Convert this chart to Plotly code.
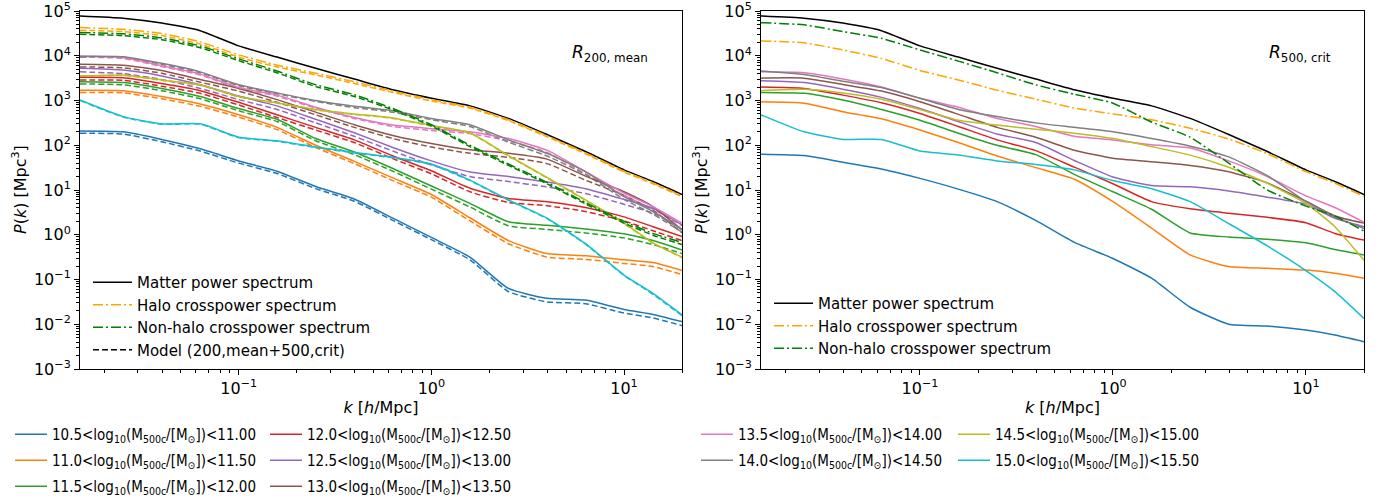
import numpy as np
import plotly.graph_objects as go

# ---------------- data (log10 of P(k) in Mpc^3) ----------------
k = [0.0150, 0.0251, 0.0398, 0.0631, 0.100, 0.158, 0.251, 0.398, 0.631,
     1.00, 1.585, 2.512, 3.981, 6.310, 10.00, 14.13, 20.00]

bin_labels = ["10.5", "11.0", "11.5", "12.0", "12.5", "13.0", "13.5", "14.0", "14.5", "15.0"]
bin_upper = ["11.00", "11.50", "12.00", "12.50", "13.00", "13.50", "14.00", "14.50", "15.00", "15.50"]
colors = ["#1f77b4", "#ff7f0e", "#2ca02c", "#d62728", "#9467bd",
          "#8c564b", "#e377c2", "#7f7f7f", "#bcbd22", "#17becf"]

matter = [4.89, 4.84, 4.73, 4.56, 4.22, 3.97, 3.72, 3.48, 3.24, 3.05, 2.88, 2.60, 2.24, 1.86, 1.45, 1.19, 0.90]

# left panel (R200,mean)
L_halo = [4.63, 4.59, 4.50, 4.31, 4.02, 3.79, 3.61, 3.42, 3.21, 3.02, 2.85, 2.57, 2.21, 1.83, 1.42, 1.16, 0.87]
L_halo_mod = [4.57, 4.54, 4.45, 4.26, 3.97, 3.75, 3.57, 3.38, 3.18, 2.99, 2.83, 2.55, 2.19, 1.81, 1.40, 1.14, 0.85]
L_nonhalo = [4.52, 4.49, 4.40, 4.22, 3.93, 3.66, 3.35, 3.13, 2.82, 2.46, 2.00, 1.58, 1.17, 0.72, 0.30, 0.03, -0.17]
L_nonhalo_mod = [4.48, 4.45, 4.36, 4.18, 3.89, 3.62, 3.31, 3.09, 2.79, 2.43, 1.97, 1.55, 1.14, 0.69, 0.26, -0.01, -0.22]

L_105 = [2.32, 2.30, 2.13, 1.92, 1.65, 1.42, 1.08, 0.80, 0.37, -0.06, -0.50, -1.20, -1.42, -1.46, -1.67, -1.78, -1.94]
L_110 = [3.23, 3.22, 3.09, 2.92, 2.68, 2.40, 2.00, 1.64, 1.27, 0.90, 0.38, -0.13, -0.42, -0.47, -0.56, -0.62, -0.80]
L_115 = [3.42, 3.40, 3.27, 3.09, 2.82, 2.58, 2.15, 1.85, 1.48, 1.09, 0.70, 0.29, 0.21, 0.13, 0.02, -0.13, -0.34]
L_120 = [3.52, 3.51, 3.38, 3.22, 2.96, 2.68, 2.40, 2.12, 1.76, 1.43, 1.04, 0.81, 0.74, 0.61, 0.40, 0.18, -0.04]
L_125 = [3.72, 3.68, 3.55, 3.35, 3.10, 2.88, 2.58, 2.28, 1.95, 1.65, 1.40, 1.30, 1.18, 1.03, 0.79, 0.59, 0.22]
L_130 = [3.81, 3.79, 3.67, 3.47, 3.27, 3.02, 2.74, 2.46, 2.22, 2.04, 1.90, 1.82, 1.69, 1.31, 0.96, 0.63, 0.11]
L_135 = [3.99, 3.96, 3.78, 3.59, 3.29, 3.12, 2.85, 2.62, 2.45, 2.37, 2.30, 2.15, 1.89, 1.41, 0.93, 0.63, 0.26]
L_140 = [3.99, 3.98, 3.83, 3.64, 3.35, 3.17, 3.00, 2.87, 2.77, 2.60, 2.46, 2.12, 1.82, 1.41, 0.85, 0.52, 0.12]
L_145 = [3.55, 3.57, 3.46, 3.35, 3.09, 2.95, 2.80, 2.70, 2.61, 2.44, 2.28, 1.77, 1.28, 0.78, 0.26, -0.18, -0.50]
L_150 = [3.01, 2.64, 2.48, 2.48, 2.18, 2.10, 1.96, 1.84, 1.73, 1.58, 1.22, 0.78, 0.37, -0.20, -0.90, -1.31, -1.79]

M_105 = [2.27, 2.25, 2.08, 1.87, 1.60, 1.37, 1.03, 0.75, 0.32, -0.11, -0.56, -1.27, -1.50, -1.54, -1.75, -1.86, -2.03]
M_110 = [3.18, 3.17, 3.04, 2.87, 2.63, 2.35, 1.95, 1.59, 1.21, 0.84, 0.31, -0.20, -0.50, -0.55, -0.64, -0.71, -0.89]
M_115 = [3.37, 3.35, 3.22, 3.04, 2.77, 2.53, 2.10, 1.79, 1.42, 1.02, 0.62, 0.20, 0.12, 0.04, -0.07, -0.22, -0.42]
M_120 = [3.46, 3.45, 3.32, 3.16, 2.90, 2.62, 2.34, 2.06, 1.70, 1.36, 0.96, 0.72, 0.65, 0.52, 0.31, 0.09, -0.13]
M_125 = [3.64, 3.60, 3.47, 3.27, 3.02, 2.80, 2.50, 2.20, 1.87, 1.56, 1.30, 1.19, 1.07, 0.92, 0.68, 0.48, 0.12]
M_130 = [3.75, 3.73, 3.61, 3.41, 3.21, 2.96, 2.68, 2.40, 2.15, 1.96, 1.82, 1.73, 1.59, 1.22, 0.88, 0.55, 0.04]
M_135 = [3.97, 3.94, 3.76, 3.57, 3.27, 3.10, 2.83, 2.60, 2.42, 2.33, 2.26, 2.10, 1.84, 1.36, 0.88, 0.57, 0.20]
M_140 = [3.97, 3.96, 3.81, 3.62, 3.33, 3.15, 2.98, 2.84, 2.74, 2.57, 2.42, 2.07, 1.76, 1.35, 0.79, 0.46, 0.06]
M_145 = [3.54, 3.56, 3.45, 3.34, 3.08, 2.94, 2.79, 2.69, 2.60, 2.43, 2.27, 1.76, 1.27, 0.77, 0.25, -0.19, -0.51]
M_150 = [3.00, 2.63, 2.47, 2.47, 2.17, 2.09, 1.95, 1.83, 1.72, 1.57, 1.21, 0.77, 0.36, -0.21, -0.91, -1.33, -1.81]

# right panel (R500,crit)
R_halo = [4.33, 4.29, 4.13, 3.94, 3.67, 3.46, 3.23, 3.03, 2.83, 2.70, 2.57, 2.38, 2.14, 1.81, 1.41, 1.15, 0.86]
R_nonhalo = [4.74, 4.69, 4.54, 4.39, 4.13, 3.88, 3.62, 3.35, 3.14, 2.94, 2.52, 2.18, 1.60, 1.00, 0.64, 0.42, 0.08]

R_105 = [1.80, 1.77, 1.62, 1.47, 1.26, 1.02, 0.74, 0.32, -0.17, -0.53, -0.97, -1.62, -2.00, -2.04, -2.13, -2.24, -2.39]
R_110 = [2.97, 2.94, 2.75, 2.59, 2.34, 2.06, 1.76, 1.50, 1.24, 0.74, 0.15, -0.45, -0.71, -0.75, -0.79, -0.86, -0.97]
R_115 = [3.18, 3.16, 3.01, 2.80, 2.56, 2.27, 2.00, 1.79, 1.35, 0.96, 0.57, 0.04, -0.05, -0.10, -0.18, -0.33, -0.45]
R_120 = [3.30, 3.27, 3.12, 2.95, 2.71, 2.42, 2.12, 1.88, 1.51, 1.14, 0.74, 0.58, 0.48, 0.39, 0.27, 0.03, -0.12]
R_125 = [3.44, 3.40, 3.25, 3.07, 2.82, 2.53, 2.25, 2.06, 1.66, 1.29, 1.10, 1.07, 0.98, 0.84, 0.68, 0.37, 0.18]
R_130 = [3.50, 3.50, 3.36, 3.21, 2.97, 2.69, 2.40, 2.18, 1.89, 1.71, 1.63, 1.55, 1.41, 1.16, 0.75, 0.42, 0.26]
R_135 = [3.64, 3.62, 3.48, 3.30, 3.05, 2.85, 2.60, 2.42, 2.20, 2.12, 2.01, 1.94, 1.65, 1.30, 0.87, 0.61, 0.28]
R_140 = [3.66, 3.58, 3.43, 3.29, 3.05, 2.80, 2.64, 2.50, 2.40, 2.30, 2.15, 1.98, 1.74, 1.32, 0.74, 0.40, 0.14]
R_145 = [3.22, 3.25, 3.17, 3.03, 2.80, 2.56, 2.45, 2.36, 2.27, 2.15, 1.97, 1.78, 1.51, 1.15, 0.70, 0.18, -0.57]
R_150 = [2.68, 2.30, 2.13, 2.13, 1.87, 1.78, 1.65, 1.57, 1.45, 1.21, 1.03, 0.74, 0.25, -0.25, -0.80, -1.27, -1.87]

y_tickvals = [1e-3, 1e-2, 1e-1, 1e0, 1e1, 1e2, 1e3, 1e4, 1e5]
y_ticktext = ["10<sup>\u22123</sup>", "10<sup>\u22122</sup>", "10<sup>\u22121</sup>", "10<sup>0</sup>",
              "10<sup>1</sup>", "10<sup>2</sup>", "10<sup>3</sup>", "10<sup>4</sup>", "10<sup>5</sup>"]
x_tickvals = [0.1, 1, 10]
x_ticktext = ["10<sup>\u22121</sup>", "10<sup>0</sup>", "10<sup>1</sup>"]

# ---------------- figure ----------------
FONT = "DejaVu Sans"
FONT_COND = "DejaVu Sans Condensed, DejaVu Sans"
W, H = 1385, 501
DASH = "6px,3px"
DASHDOT = "10px,3px,2px,3px"
LW = 1.5

def P(a):
    return [10 ** v for v in a]

def ln(color, dash="solid"):
    return dict(color=color, width=LW, dash=dash, shape="spline", smoothing=0.5)

left_bins = [L_105, L_110, L_115, L_120, L_125, L_130, L_135, L_140, L_145, L_150]
left_mods = [M_105, M_110, M_115, M_120, M_125, M_130, M_135, M_140, M_145, M_150]
right_bins = [R_105, R_110, R_115, R_120, R_125, R_130, R_135, R_140, R_145, R_150]

bottom_legend_of = ["legend4", "legend4", "legend4", "legend5", "legend5", "legend5",
                    "legend6", "legend6", "legend7", "legend7"]

fig = go.Figure()

for i in range(10):
    fig.add_trace(go.Scatter(x=k, y=P(left_mods[i]), mode="lines", xaxis="x", yaxis="y",
                             line=ln(colors[i], DASH), showlegend=False))
for i in range(10):
    name = (f"{bin_labels[i]}&lt;log<sub>10</sub>(M<sub>500c</sub>/[M<sub>\u2299</sub>])&lt;{bin_upper[i]}")
    fig.add_trace(go.Scatter(x=k, y=P(left_bins[i]), mode="lines", xaxis="x", yaxis="y",
                             name=name, legend=bottom_legend_of[i], legendgroup=f"g{i}",
                             line=ln(colors[i])))

fig.add_trace(go.Scatter(x=k, y=P(L_halo_mod), mode="lines", xaxis="x", yaxis="y",
                         line=ln("#FFA500", DASH), showlegend=False))
fig.add_trace(go.Scatter(x=k, y=P(L_nonhalo_mod), mode="lines", xaxis="x", yaxis="y",
                         line=ln("#008000", DASH), showlegend=False))
fig.add_trace(go.Scatter(x=k, y=P(matter), mode="lines", xaxis="x", yaxis="y",
                         name="Matter power spectrum", legend="legend2", line=ln("black")))
fig.add_trace(go.Scatter(x=k, y=P(L_halo), mode="lines", xaxis="x", yaxis="y",
                         name="Halo crosspower spectrum", legend="legend2", line=ln("#FFA500", DASHDOT)))
fig.add_trace(go.Scatter(x=k, y=P(L_nonhalo), mode="lines", xaxis="x", yaxis="y",
                         name="Non-halo crosspower spectrum", legend="legend2", line=ln("#008000", DASHDOT)))
fig.add_trace(go.Scatter(x=[None], y=[None], mode="lines", xaxis="x", yaxis="y",
                         name="Model (200,mean+500,crit)", legend="legend2", line=ln("black", DASH)))

for i in range(10):
    fig.add_trace(go.Scatter(x=k, y=P(right_bins[i]), mode="lines", xaxis="x2", yaxis="y2",
                             line=ln(colors[i]), showlegend=False))
fig.add_trace(go.Scatter(x=k, y=P(matter), mode="lines", xaxis="x2", yaxis="y2",
                         name="Matter power spectrum", legend="legend3", line=ln("black")))
fig.add_trace(go.Scatter(x=k, y=P(R_halo), mode="lines", xaxis="x2", yaxis="y2",
                         name="Halo crosspower spectrum", legend="legend3", line=ln("#FFA500", DASHDOT)))
fig.add_trace(go.Scatter(x=k, y=P(R_nonhalo), mode="lines", xaxis="x2", yaxis="y2",
                         name="Non-halo crosspower spectrum", legend="legend3", line=ln("#008000", DASHDOT)))

# ---------------- layout ----------------
ML, MR, MT, MB = 80, 21, 11, 132
pw = W - ML - MR
ph = H - MT - MB
d1 = [0, (682 - 80) / pw]
d2 = [(761 - 80) / pw, 1]

tickfont = dict(family=FONT, size=16, color="black")

def xax(dom, anchor):
    return dict(domain=dom, anchor=anchor, type="log", range=[np.log10(0.0150), np.log10(20.0)],
                tickmode="array", tickvals=x_tickvals, ticktext=x_ticktext,
                ticks="outside", ticklen=5, tickwidth=1, tickcolor="black",
                minor=dict(ticks="outside", ticklen=3, tickwidth=0.8, tickcolor="black", dtick="D1", showgrid=False),
                showline=True, linecolor="black", linewidth=1, mirror=True,
                showgrid=False, zeroline=False, tickfont=tickfont, automargin=False,
                ticklabeloverflow="allow",
                title=dict(text="<i>k</i> [<i>h</i>/Mpc]", font=dict(family=FONT, size=16, color="black"), standoff=4))

def yax(anchor):
    return dict(domain=[0, 1], anchor=anchor, type="log", range=[-3, 5.00001],
                tickmode="array", tickvals=y_tickvals, ticktext=y_ticktext,
                ticks="outside", ticklen=5, tickwidth=1, tickcolor="black",
                minor=dict(ticks="outside", ticklen=3, tickwidth=0.8, tickcolor="black", dtick="D1", showgrid=False),
                showline=True, linecolor="black", linewidth=1, mirror=True,
                showgrid=False, zeroline=False, tickfont=tickfont, automargin=False,
                ticklabeloverflow="allow")

def leg(x_px, top_px, gap=0, family=FONT, itemwidth=30):
    return dict(x=x_px / W, y=1 - top_px / H, xref="container", yref="container",
                xanchor="left", yanchor="top", bgcolor="rgba(0,0,0,0)", borderwidth=0,
                font=dict(family=family, size=15, color="black"), traceorder="grouped",
                tracegroupgap=gap, itemwidth=itemwidth, itemclick=False, itemdoubleclick=False)

def ann(text, x_px, y_px, size=17, angle=0, xanchor="left"):
    return dict(text=text, x=(x_px - ML) / pw, y=(H - MB - y_px) / ph, xref="paper", yref="paper",
                xanchor=xanchor, yanchor="middle", showarrow=False, textangle=angle,
                font=dict(family=FONT, size=size, color="black"))

ytitle = "<i>P</i>(<i>k</i>) [Mpc<sup>3</sup>]"

fig.update_layout(
    width=W, height=H, autosize=False,
    margin=dict(l=ML, r=MR, t=MT, b=MB, autoexpand=False),
    paper_bgcolor="white", plot_bgcolor="white",
    font=dict(family=FONT, size=15, color="black"),
    xaxis=xax(d1, "y"), yaxis=yax("x"),
    xaxis2=xax(d2, "y2"), yaxis2=yax("x2"),
    showlegend=True,
    legend2=leg(88, 266, itemwidth=39),
    legend3=leg(769, 287, itemwidth=39),
    legend4=leg(10, 418, 3.5, FONT_COND, 32),
    legend5=leg(265, 418, 3.5, FONT_COND, 32),
    legend6=leg(696, 418, 3.5, FONT_COND, 32),
    legend7=leg(953, 418, 3.5, FONT_COND, 32),
    annotations=[
        ann("<i>R</i><sub>200, mean</sub>", 570, 53),
        ann("<i>R</i><sub>500, crit</sub>", 1267, 53),
        ann(ytitle, 19, 190, size=16, angle=-90, xanchor="center"),
        ann(ytitle, 700, 190, size=16, angle=-90, xanchor="center"),
    ],
)

fig.write_html("out.html")
